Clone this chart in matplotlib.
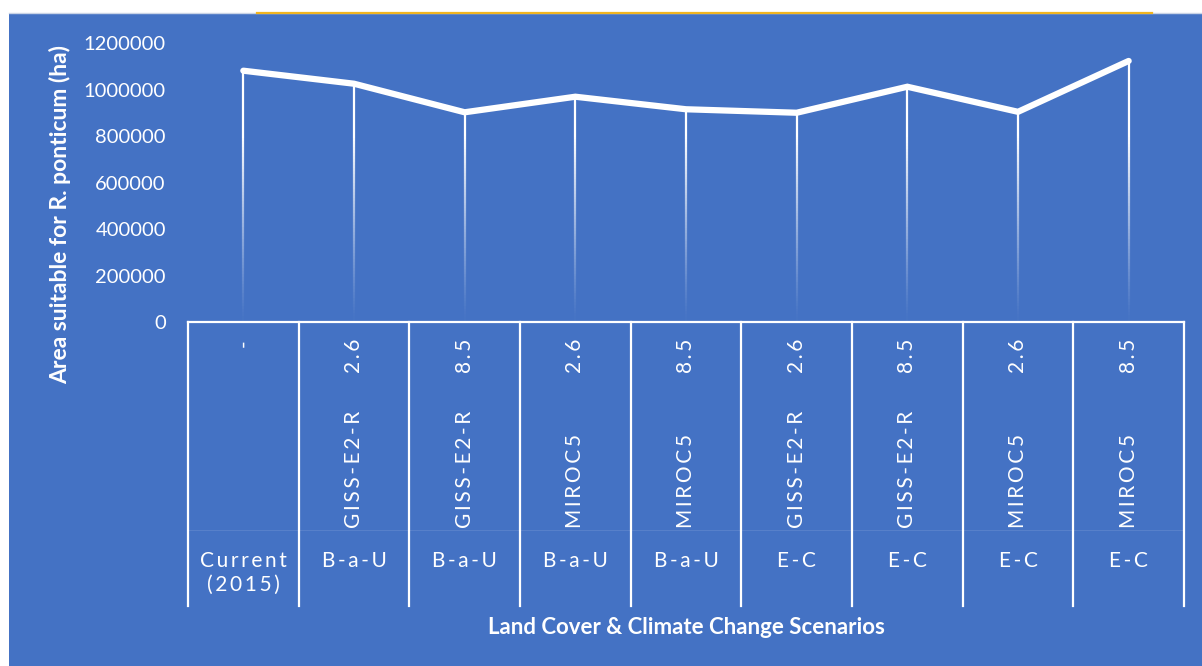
import numpy as np
import matplotlib
matplotlib.use("Agg")
import matplotlib.pyplot as plt
from matplotlib.collections import LineCollection
from matplotlib.patches import Rectangle
from matplotlib.lines import Line2D
import matplotlib.transforms as mtransforms

# DATOS

escenario = ["Current\n(2015)", "B-a-U", "B-a-U", "B-a-U", "B-a-U", "E-C", "E-C", "E-C", "E-C"]
modelo = ["", "GISS-E2-R", "GISS-E2-R", "MIROC5", "MIROC5", "GISS-E2-R", "GISS-E2-R", "MIROC5", "MIROC5"]
rcp = ["-", "2.6", "8.5", "2.6", "8.5", "2.6", "8.5", "2.6", "8.5"]
area_ha = [1082000, 1026000, 903000, 970000, 916000, 901000, 1013000, 905000, 1124000]
ticks_y = [0, 200000, 400000, 600000, 800000, 1000000, 1200000]

# ESTILO

azul = "#4472C4"
plt.rcParams['font.family'] = ['Lato', 'DejaVu Sans']

W, H = 1202, 666
fig = plt.figure(figsize=(W / 100, H / 100), dpi=100)
fig.patch.set_facecolor("white")


def fy(px):
    # pixel vertical (desde arriba) -> fraccion de figura
    return (H - px) / H


def fx(px):
    return px / W


def espaciar(texto):
    # letras separadas con espacio fino
    return "\u2009".join(texto)


# Fondo azul del grafico (debajo de los ejes)
fig.patches.append(Rectangle((fx(9), 0), 1 - fx(9), fy(13), transform=fig.transFigure,
                             facecolor=azul, edgecolor="none", zorder=-10))
fig.lines.append(Line2D([fx(9), 1], [fy(12.6), fy(12.6)], transform=fig.transFigure,
                        color="#c9d3e6", lw=1.0, zorder=-9))
fig.lines.append(Line2D([fx(257), fx(1152)], [fy(12.6), fy(12.6)], transform=fig.transFigure,
                        color="#f2b51f", lw=1.6, zorder=-8))

# EJES

ax = fig.add_axes([fx(188), fy(322), fx(1184) - fx(188), fy(43.3) - fy(322)])
ax.set_facecolor("none")
for s in ax.spines.values():
    s.set_visible(False)

n = len(area_ha)
x = np.arange(n) + 0.5
ax.set_xlim(0, n)
ax.set_ylim(0, 1200000)
ax.set_xticks([])
ax.set_yticks(ticks_y)
ax.set_yticklabels([str(t) for t in ticks_y])
ax.tick_params(axis="y", length=0, pad=16, labelcolor="white", labelsize=14.5)

# Lineas verticales que se desvanecen hacia abajo
for xi, v in zip(x, area_ha):
    ys = np.linspace(0, v, 80)
    segs = [[(xi, ys[k]), (xi, ys[k + 1])] for k in range(len(ys) - 1)]
    alfa = np.clip((ys[:-1] + ys[1:]) / 2 / 800000, 0.03, 1.0) ** 1.2
    colores = [(1, 1, 1, a) for a in alfa]
    ax.add_collection(LineCollection(segs, colors=colores, linewidths=1.6, zorder=2))

# Linea principal
ax.plot(x, area_ha, color="white", lw=4.5, solid_capstyle="round", solid_joinstyle="miter", zorder=3)

# TABLA DE CATEGORIAS

tr = mtransforms.blended_transform_factory(ax.transData, fig.transFigure)
ax.add_line(Line2D([0, n], [fy(322), fy(322)], transform=tr, color="white", lw=1.6, clip_on=False))
ax.add_line(Line2D([0, n], [fy(530), fy(530)], transform=tr, color="white", lw=0.8, alpha=0.1, clip_on=False))
for b in range(n + 1):
    ax.add_line(Line2D([b, b], [fy(322), fy(606)], transform=tr, color="white", lw=1.6, clip_on=False))

for i in range(n):
    ax.text(x[i], fy(339), espaciar(rcp[i]), transform=tr, rotation=90, ha="center", va="top",
            color="white", fontsize=15)
    if modelo[i]:
        ax.text(x[i], fy(528), espaciar(modelo[i]), transform=tr, rotation=90, ha="center", va="bottom",
                color="white", fontsize=15)
    lineas = [espaciar(l) for l in escenario[i].split("\n")]
    ax.text(x[i], fy(551), "\n".join(lineas), transform=tr, ha="center", va="top",
            color="white", fontsize=15, linespacing=1.25)

# TITULOS

fig.text(fx(686), fy(627), "Land Cover & Climate Change Scenarios", ha="center", va="center",
         color="white", fontsize=16, fontweight="bold")
fig.text(fx(60), fy(215), "Area suitable for R. ponticum (ha)", ha="center", va="center",
         rotation=90, color="white", fontsize=16.5, fontweight="bold")

fig.savefig("out.png", dpi=100, facecolor=fig.get_facecolor())
